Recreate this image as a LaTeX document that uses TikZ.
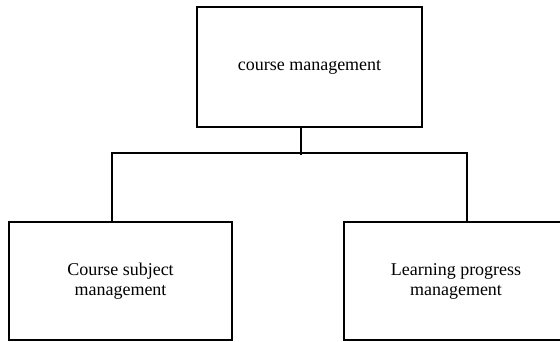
\documentclass[tikz,border=0pt]{standalone}
\usepackage{fontspec}
\setmainfont{Liberation Serif}

\begin{document}
\begin{tikzpicture}[
                      x = 1pt,
                      y = 1pt,
      every node/.style = {font=\fontsize{18}{20}\selectfont, align=center},
         unitbox/.style = {draw, line width=1.5pt, inner sep=0pt,
                           minimum width=#1, minimum height=118pt},
            link/.style = {draw, line width=1.5pt},
                     ]
\useasboundingbox (0,0) rectangle (560,342);
% boxes
\node[unitbox=225pt, minimum height=120pt] (course) at (309.5,275) {course management};
\node[unitbox=223pt] (subject)  at (120.5,61) {Course subject\\management};
\node[unitbox=224pt] (progress) at (456,61)   {Learning progress\\management};
% bus
\coordinate (bus-m) at (301,189);
\coordinate (bus-l) at (112,189);
\coordinate (bus-r) at (467,189);
\path[link] (course.south -| bus-m) -- ([yshift=-2pt]bus-m);
\path[link] (subject.north -| bus-l) -- (bus-l) -- (bus-r) -- (progress.north -| bus-r);
\end{tikzpicture}
\end{document}
